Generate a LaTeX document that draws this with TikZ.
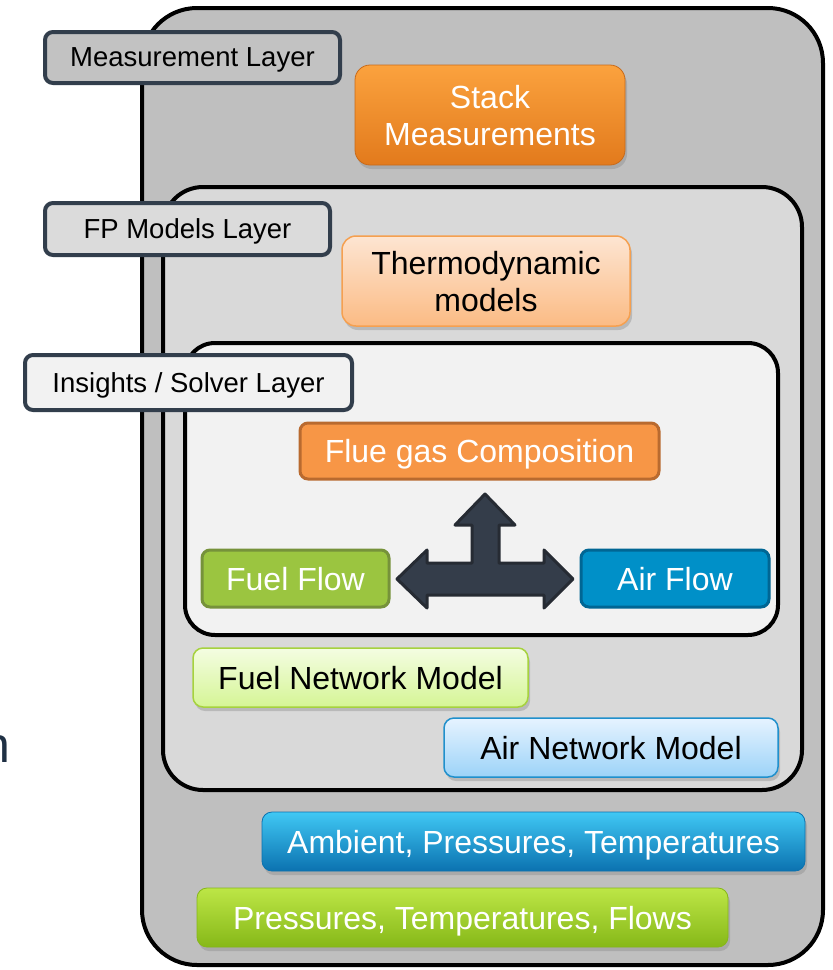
\documentclass[tikz,border=0pt]{standalone}
\usepackage{fontspec}
\setmainfont{Liberation Sans}
\usetikzlibrary{shapes,positioning,shadows,calc}

\definecolor{slate}{HTML}{323E4C}
\definecolor{outergray}{HTML}{BFBFBF}
\definecolor{midgray}{HTML}{D9D9D9}
\definecolor{innergray}{HTML}{F2F2F2}
\definecolor{flueorange}{HTML}{F79646}
\definecolor{fluedark}{HTML}{B96A2F}
\definecolor{fuelgreen}{HTML}{9BC540}
\definecolor{fueldark}{HTML}{76923A}
\definecolor{airblue}{HTML}{0090C8}
\definecolor{airdark}{HTML}{006694}
\definecolor{arrowfill}{HTML}{343D4A}
\definecolor{arrowline}{HTML}{262B33}
\definecolor{navy}{HTML}{1F3044}
% gradient colours
\definecolor{stackTop}{HTML}{FBA23E}
\definecolor{stackBot}{HTML}{E27A1C}
\definecolor{stackLine}{HTML}{C86A1A}
\definecolor{thermoTop}{HTML}{FDE5D2}
\definecolor{thermoBot}{HTML}{FBBB84}
\definecolor{thermoLine}{HTML}{F5A050}
\definecolor{ambTop}{HTML}{40C8F4}
\definecolor{ambMid}{HTML}{12A0DC}
\definecolor{ambBot}{HTML}{0B72B0}
\definecolor{presTop}{HTML}{BDE646}
\definecolor{presMid}{HTML}{A4D42A}
\definecolor{presBot}{HTML}{86B818}
\definecolor{fuelNetTop}{HTML}{F4FDE2}
\definecolor{fuelNetBot}{HTML}{D5F595}
\definecolor{fuelNetLine}{HTML}{A6D23E}
\definecolor{airNetTop}{HTML}{E6F3FF}
\definecolor{airNetBot}{HTML}{9CD3F8}
\definecolor{airNetLine}{HTML}{2090CC}

\begin{document}
\begin{tikzpicture}[x=1pt,y=-1pt,
    layer/.style={draw=black,line width=4pt,rounded corners=#1,inner sep=0pt},
    tag/.style={draw=slate,line width=4pt,rounded corners=8pt,inner sep=0pt,text depth=0pt,
        font=\fontsize{27.5}{32}\selectfont},
    box/.style={rounded corners=10pt,inner sep=0pt,align=center,text depth=0pt,
        font=\fontsize{32}{37}\selectfont},
    glossy/.style={box,drop shadow={shadow xshift=2pt,shadow yshift=-4pt,opacity=.35}},
    flat/.style={box,line width=3pt,rounded corners=8pt,text=white}]
    \useasboundingbox (0,0) rectangle (833,970);
    % cut-off letter at the left edge
    \node[anchor=base east, inner sep=0pt, text=navy, font=\fontsize{50}{50}\selectfont] (cut) at (11,762) {n};
    % layer containers
    \node[layer=55pt, fill=outergray, minimum width=681pt, minimum height=957pt] (outer) at (482.5,486.5) {};
    \node[layer=40pt, fill=midgray, minimum width=639pt, minimum height=603pt] (middle) at (482.5,488.5) {};
    \node[layer=30pt, fill=innergray, minimum width=593pt, minimum height=292pt] (inner) at (481.5,489) {};
    % layer tags
    \node[tag, fill=outergray!95!white, minimum width=295pt, minimum height=51pt] (measTag) at (192.5,57.5) {Measurement Layer};
    \node[tag, fill=midgray!95!white, minimum width=285pt, minimum height=52pt] (fpTag) at (187.5,229) {FP Models Layer};
    \node[tag, fill=innergray, minimum width=327pt, minimum height=55pt] (solverTag) at (188.5,382.5) {Insights / Solver Layer};
    % measurement layer
    \node[glossy, text=white, draw=stackLine, line width=.8pt, rounded corners=15pt,
        top color=stackTop, bottom color=stackBot,
        minimum width=270pt, minimum height=100pt] (stack) at (490,115) {Stack\\Measurements};
    \node[glossy, text=white, draw=ambBot, line width=.8pt,
        top color=ambTop, middle color=ambMid, bottom color=ambBot,
        minimum width=543pt, minimum height=59pt] (ambient) at (533.5,841.5) {Ambient, Pressures, Temperatures};
    \node[glossy, text=white, draw=presBot, line width=.8pt,
        top color=presTop, middle color=presMid, bottom color=presBot,
        minimum width=531pt, minimum height=59pt] (sensors) at (462.5,917.5) {Pressures, Temperatures, Flows};
    % FP models layer
    \node[glossy, draw=thermoLine, line width=1.5pt, rounded corners=14pt,
        top color=thermoTop, bottom color=thermoBot,
        minimum width=288pt, minimum height=90pt] (thermo) at (486,281) {Thermodynamic\\models};
    \node[glossy, draw=fuelNetLine, line width=1.5pt,
        top color=fuelNetTop, bottom color=fuelNetBot,
        minimum width=335pt, minimum height=59pt] (fuelNet) at (360.5,677.5) {Fuel Network Model};
    \node[glossy, draw=airNetLine, line width=1.5pt,
        top color=airNetTop, bottom color=airNetBot,
        minimum width=334pt, minimum height=59pt] (airNet) at (611,747.5) {Air Network Model};
    % solver layer
    \node[flat, fill=flueorange, draw=fluedark, minimum width=359pt, minimum height=56pt] (flue) at (479.5,451) {Flue gas Composition};
    \node[flat, fill=fuelgreen, draw=fueldark, minimum width=187pt, minimum height=57pt] (fuel) at (295.5,578.5) {Fuel Flow};
    \node[flat, fill=airblue, draw=airdark, minimum width=188pt, minimum height=57pt] (air) at (675,578.5) {Air Flow};
    % three way arrow
    \coordinate (hub) at (485,579);
    \draw[line width=3pt, draw=arrowline, fill=arrowfill, line join=round]
        ($(hub)+(0,-85)$) -- ++(30,31) -- ++(-16,0) -- ++(0,38) -- ++(45,0) -- ++(0,-13)
        -- ++(29,29) -- ++(-29,29) -- ++(0,-13) -- ++(-117,0) -- ++(0,13)
        -- ++(-30,-29) -- ++(30,-29) -- ++(0,13) -- ++(45,0) -- ++(0,-38) -- ++(-17,0) -- cycle;
\end{tikzpicture}
\end{document}
